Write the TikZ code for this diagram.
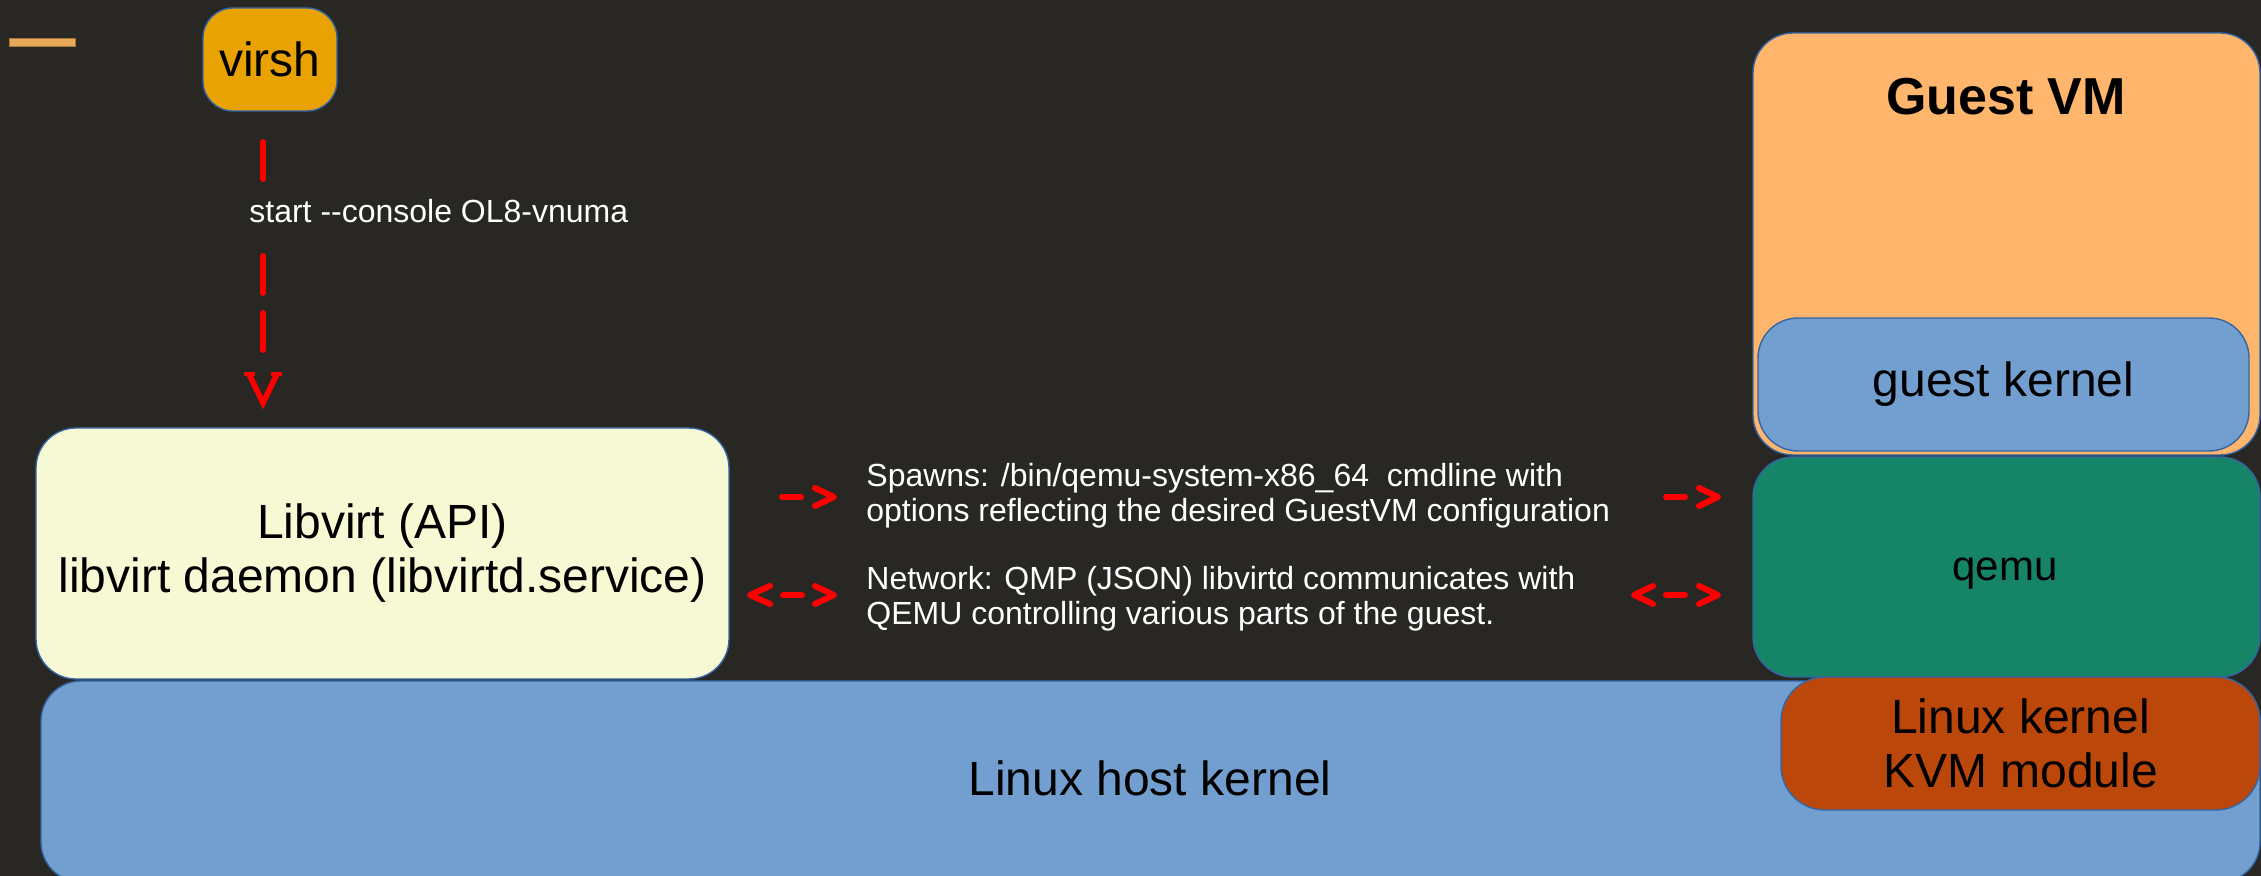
\documentclass[tikz,border=0pt]{standalone}
\usepackage{fontspec}
\setmainfont{Liberation Sans}
\definecolor{bg}{HTML}{292724}
\definecolor{boxedge}{HTML}{3465A4}
\definecolor{virshc}{HTML}{E8A202}
\definecolor{barc}{HTML}{E8A857}
\definecolor{libc}{HTML}{F7F9D5}
\definecolor{bluec}{HTML}{729FCF}
\definecolor{guestc}{HTML}{FFB66C}
\definecolor{qemuc}{HTML}{168467}
\definecolor{kvmc}{HTML}{BC470A}
\begin{document}
\begin{tikzpicture}[x=0.5pt,y=-0.5pt,
  box/.style={draw=boxedge, line width=0.7pt, rounded corners=20pt, inner sep=0pt, align=center},
  big/.style={font=\fontsize{24pt}{27pt}\selectfont},
  small/.style={font=\fontsize{16pt}{17.5pt}\selectfont, text=white},
  redl/.style={draw=red, line width=3pt, line cap=round, line join=round}]
\fill[bg] (0,0) rectangle (2261,876);
\useasboundingbox (0,0) rectangle (2261,876);
\clip (0,0) rectangle (2261,876);
% small bar top-left
\node[fill=barc, draw=barc!70!black, line width=0.5pt, inner sep=0pt, minimum width=33pt, minimum height=4pt] at (42,43) (bar) {};
% boxes
\node[box, fill=bluec, big, minimum width=1109.5pt, minimum height=100.5pt] at (1150.5,781.5) (host) {};
\node[big] at (1150,778) (hosttxt) {Linux host kernel};
\node[box, fill=libc, big, minimum width=346.5pt, minimum height=125.5pt] at (382.5,553.5) (libvirt) {Libvirt (API)\\libvirt daemon (libvirtd.service)};
\node[box, fill=virshc, big, rounded corners=15pt, minimum width=67pt, minimum height=51.5pt] at (270,59.5) (virsh) {virsh};
\node[box, fill=guestc, minimum width=253.5pt, minimum height=211pt] at (2006.5,244) (guest) {};
\node[anchor=base, font=\fontsize{26pt}{30pt}\selectfont\bfseries] at (2006,115) (guesttitle) {Guest VM};
\node[box, fill=bluec, big, minimum width=245.5pt, minimum height=66.5pt] at (2003.5,384.5) (gkernel) {guest kernel};
\node[box, fill=qemuc, minimum width=253.5pt, minimum height=110pt] at (2006.5,567) (qemu) {};
\node[anchor=base, inner sep=0pt, font=\fontsize{21pt}{24pt}\selectfont] at (2005,581) (qemutxt) {qemu};
\node[box, fill=kvmc, big, rounded corners=22pt, minimum width=239.5pt, minimum height=66.5pt] at (2020.5,743.5) (kvm) {Linux kernel\\KVM module};
% virsh -> libvirt dashed connector
\coordinate (c1) at (263,142);
\coordinate (c2) at (263,350);
\draw[redl, dash pattern=on 18.5pt off 10pt] (c1) -- (c2);
\node[small, fill=bg, anchor=base west, inner xsep=0pt, inner ysep=6pt, text depth=4pt] at (249,223) (startlbl) {start -{}-console OL8-vnuma};
\coordinate (vtip) at (263,403);
\draw[red, line width=2.8pt, line join=miter] ([xshift=-7pt,yshift=14.5pt]vtip) -- (vtip) -- ([xshift=7pt,yshift=14.5pt]vtip);
\draw[red, line width=2.4pt] ([xshift=-9.5pt,yshift=14.5pt]vtip) -- ([xshift=-4pt,yshift=14.5pt]vtip);
\draw[red, line width=2.4pt] ([xshift=4pt,yshift=14.5pt]vtip) -- ([xshift=9.5pt,yshift=14.5pt]vtip);
% text blocks (base anchor = last line baseline)
\node[small, anchor=base west, align=left, inner sep=0pt] at (866,522) (spawns) {Spawns: /bin/qemu-system-x86\_64\ \ cmdline with\\options reflecting the desired GuestVM configuration};
\node[small, anchor=base west, align=left, inner sep=0pt] at (866,625) (network) {Network: QMP (JSON) libvirtd communicates with\\QEMU controlling various parts of the guest.};
% ascii arrows
\draw[redl] (782,497) -- (801,497);
\draw[redl] (815,488) -- (834,497) -- (815,506);
\draw[redl] (770,586) -- (750,595) -- (770,604);
\draw[redl] (783,595) -- (802,595);
\draw[redl] (815,586) -- (834,595) -- (815,604);
\draw[redl] (1666,497) -- (1685,497);
\draw[redl] (1699,488) -- (1718,497) -- (1699,506);
\draw[redl] (1653,586) -- (1634,595) -- (1653,604);
\draw[redl] (1666,595) -- (1685,595);
\draw[redl] (1699,586) -- (1718,595) -- (1699,604);
\end{tikzpicture}
\end{document}
